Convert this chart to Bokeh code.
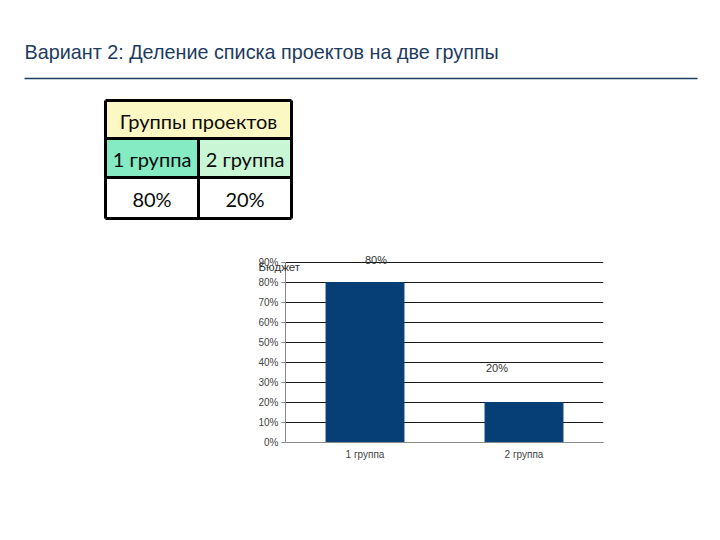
from bokeh.plotting import figure
from bokeh.models import (Range1d, FactorRange, NumeralTickFormatter, FixedTicker,
                          ColumnDataSource, LabelSet, Title)
from bokeh.core.properties import value
from bokeh.embed import file_html
from bokeh.resources import INLINE

# ---------------- data ----------------
title_text = "Вариант 2: Деление списка проектов на две группы"
table_header = "Группы проектов"
categories = ["1 группа", "2 группа"]
shares = [0.80, 0.20]
share_labels = ["80%", "20%"]
y_ticks = [0.0, 0.1, 0.2, 0.3, 0.4, 0.5, 0.6, 0.7, 0.8, 0.9]
axis_title = "Бюджет"

# ---------------- styles ----------------
NAVY = "#1d3c60"
BAR = "#063f76"
label_dx = [11, -27]
label_dy = [23, 35]

W = 720
TOP_H = 240
BOT_H = 300

# ---------------- top part: title + table ----------------
top = figure(width=W, height=TOP_H, output_backend="svg", toolbar_location=None,
             x_range=Range1d(0, W), y_range=Range1d(TOP_H, 0),
             min_border=0, outline_line_color=None)
top.axis.visible = False
top.grid.visible = False

top.text(x=[24], y=[51], text=[title_text], text_font=value("Liberation Sans"),
         text_font_size="19.8px", text_color=NAVY, text_baseline="middle", text_align="left")
top.segment(x0=[24], y0=[78], x1=[697], y1=[78], line_color=NAVY, line_width=1.6)

# table geometry
tx0, tx1 = 105, 291
tmid = (tx0 + tx1) / 2
rows = [100, 138, 177, 218]
top.quad(left=[tx0], right=[tx1], top=[rows[0]], bottom=[rows[1]],
         fill_color="#fcf8c4", line_color=None)
top.quad(left=[tx0, tmid], right=[tmid, tx1], top=[rows[1]] * 2, bottom=[rows[2]] * 2,
         fill_color=["#84ebc2", "#c9f7d6"], line_color=None)
top.quad(left=[tx0, tmid], right=[tmid, tx1], top=[rows[2]] * 2, bottom=[rows[3]] * 2,
         fill_color="white", line_color=None)
top.multi_line(xs=[[tx0, tx1], [tx0, tx1], [tx0, tx1], [tx0, tx1], [tx0, tx0], [tx1, tx1], [tmid, tmid]],
               ys=[[rows[0]] * 2, [rows[1]] * 2, [rows[2]] * 2, [rows[3]] * 2,
                   [rows[0], rows[3]], [rows[0], rows[3]], [rows[1], rows[3]]],
               line_color="black", line_width=3)
TF = value("Lato")
top.text(x=[tmid], y=[(rows[0] + rows[1]) / 2 + 1], text=[table_header], text_font=TF,
         text_font_size="20px", text_color="#0a0a0a", text_align="center", text_baseline="middle")
cell_x = [(tx0 + tmid) / 2, (tmid + tx1) / 2]
top.text(x=cell_x, y=[(rows[1] + rows[2]) / 2 + 1] * 2, text=categories, text_font=TF,
         text_font_size="20px", text_color="#0a0a0a", text_align="center", text_baseline="middle")
top.text(x=cell_x, y=[(rows[2] + rows[3]) / 2 + 1] * 2, text=share_labels, text_font=TF,
         text_font_size="20px", text_color="#0a0a0a", text_align="center", text_baseline="middle")

# ---------------- bottom part: bar chart ----------------
p = figure(width=W, height=BOT_H, output_backend="svg", toolbar_location=None,
           x_range=FactorRange(*categories, range_padding=0),
           y_range=Range1d(0, 0.95),
           min_border_left=285, min_border_right=117, min_border_top=12, min_border_bottom=98,
           outline_line_color=None)

src = ColumnDataSource(dict(cat=categories, val=shares, lab=share_labels,
                            dx=label_dx, dy=label_dy))
p.vbar(x="cat", top="val", width=0.49, source=src, fill_color=BAR, line_color=BAR)

p.yaxis.ticker = FixedTicker(ticks=y_ticks)
p.yaxis.formatter = NumeralTickFormatter(format="0%")
p.yaxis.bounds = (0, 0.9)
p.ygrid.ticker = FixedTicker(ticks=y_ticks)
p.ygrid.grid_line_color = "#1a1a1a"
p.ygrid.grid_line_width = 1
p.xgrid.visible = False

for ax in (p.xaxis[0], p.yaxis[0]):
    ax.axis_line_color = "#8a8a8a"
    ax.major_tick_line_color = "#8a8a8a"
    ax.minor_tick_line_color = None
    ax.major_label_text_font = "Liberation Sans"
    ax.major_label_text_font_size = "10px"
    ax.major_label_text_color = "#444444"
p.yaxis.major_tick_out = 4
p.yaxis.major_tick_in = 0
p.yaxis.major_label_standoff = 3
p.xaxis.major_tick_line_color = None
p.xaxis.major_tick_out = 0
p.xaxis.major_tick_in = 0
p.xaxis.major_label_standoff = 6

labels = LabelSet(x="cat", y="val", text="lab", x_offset="dx", y_offset="dy", source=src,
                  text_font=value("Liberation Sans"), text_font_size="11px", text_color="#333333",
                  text_align="center", text_baseline="middle")
p.add_layout(labels)

p.add_layout(Title(text=axis_title, align="left", offset=-27, standoff=-41,
                   text_font="Liberation Sans", text_font_size="11.5px",
                   text_font_style="normal", text_color="#333333"), "above")

open("out.html", "w").write(file_html([top, p], INLINE))
